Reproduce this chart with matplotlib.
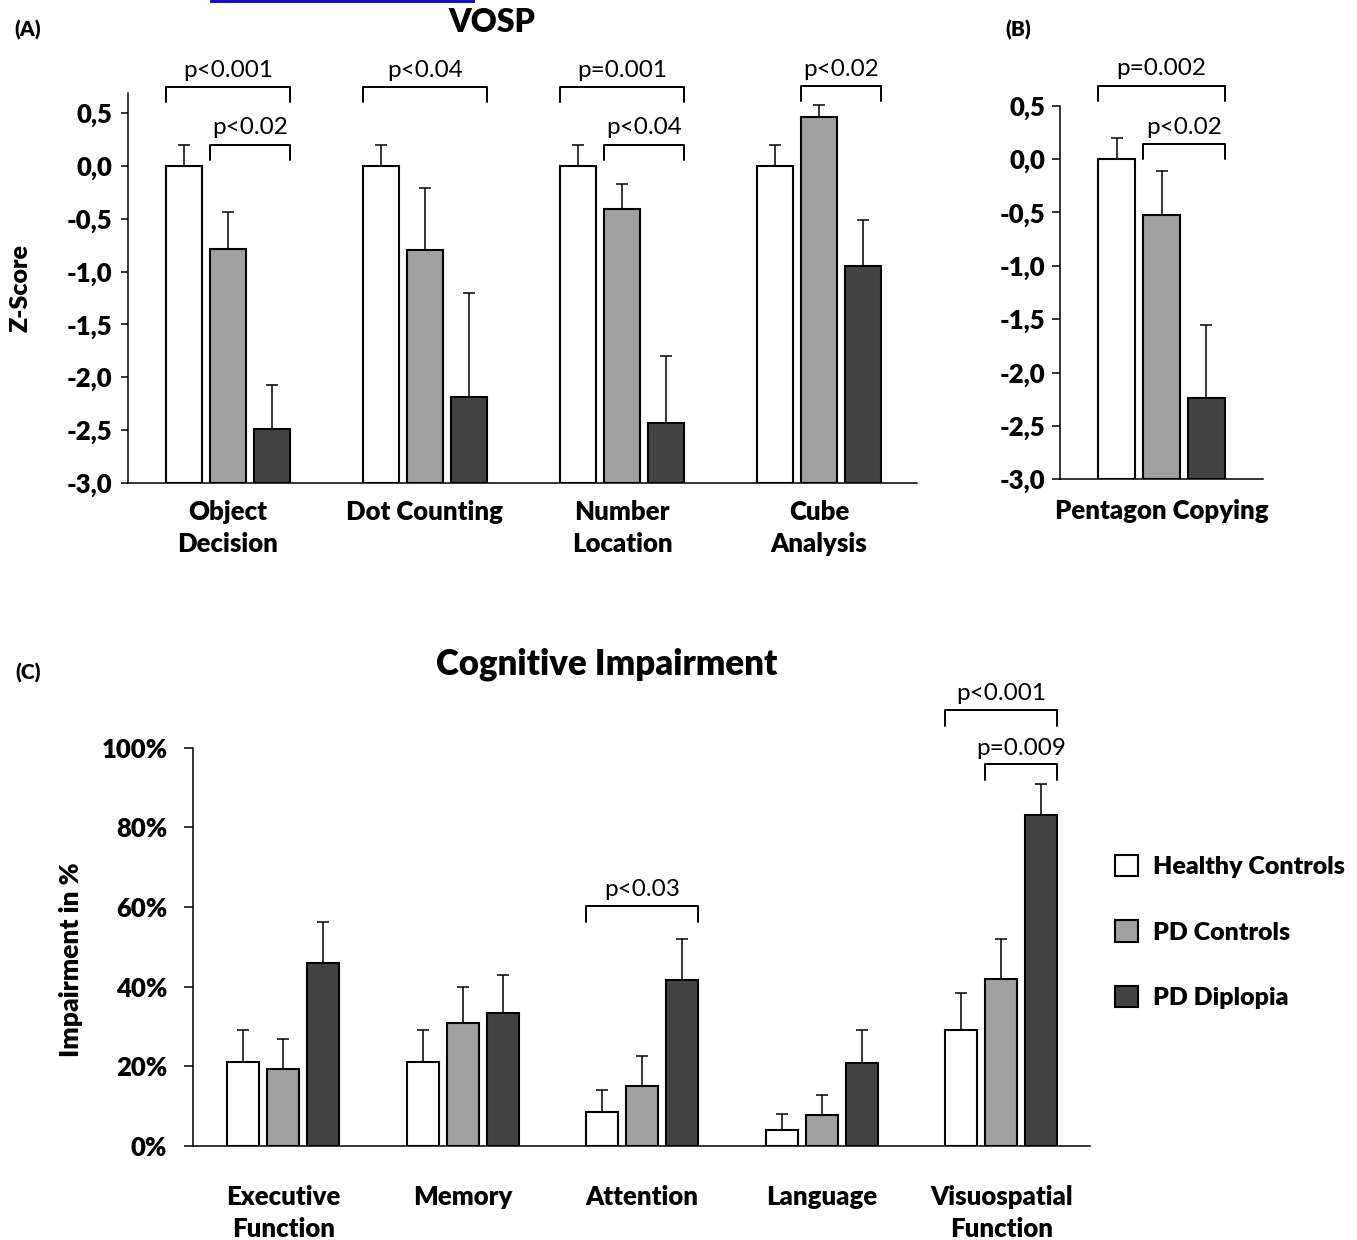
import matplotlib
matplotlib.use('Agg')
import matplotlib.pyplot as plt
from matplotlib.patches import Rectangle

plt.rcParams['font.family'] = ['Lato', 'DejaVu Sans']

# ---------------- data ----------------
group_names = ['Healthy Controls', 'PD Controls', 'PD Diplopia']
group_colors = ['#ffffff', '#a0a0a0', '#434343']

vosp_tests = ['Object\nDecision', 'Dot Counting', 'Number\nLocation', 'Cube\nAnalysis']
vosp_hc = [0.0, 0.0, 0.0, 0.0]
vosp_hc_err = [0.20, 0.20, 0.20, 0.20]
vosp_pdc = [-0.79, -0.80, -0.41, 0.46]
vosp_pdc_err = [0.35, 0.59, 0.24, 0.12]
vosp_pdd = [-2.49, -2.19, -2.43, -0.95]
vosp_pdd_err = [0.42, 0.99, 0.63, 0.44]

pent_tests = ['Pentagon Copying']
pent_hc = [0.0]
pent_hc_err = [0.20]
pent_pdc = [-0.52]
pent_pdc_err = [0.41]
pent_pdd = [-2.24]
pent_pdd_err = [0.69]

z_ticks = [0.5, 0.0, -0.5, -1.0, -1.5, -2.0, -2.5, -3.0]
z_ticklabels = ['0,5', '0,0', '-0,5', '-1,0', '-1,5', '-2,0', '-2,5', '-3,0']

cog_domains = ['Executive\nFunction', 'Memory', 'Attention', 'Language', 'Visuospatial\nFunction']
cog_hc = [21.0, 21.0, 8.5, 4.0, 29.0]
cog_hc_err = [8.0, 8.0, 5.5, 4.0, 9.5]
cog_pdc = [19.3, 31.0, 15.0, 7.8, 42.0]
cog_pdc_err = [7.6, 9.0, 7.5, 5.0, 10.0]
cog_pdd = [46.0, 33.4, 41.7, 20.8, 83.0]
cog_pdd_err = [10.2, 9.5, 10.2, 8.3, 8.0]

pct_ticks = [0, 20, 40, 60, 80, 100]
pct_ticklabels = ['0%', '20%', '40%', '60%', '80%', '100%']

# ---------------- figure ----------------
W, H = 1357, 1240
fig = plt.figure(figsize=(W / 100, H / 100), dpi=100)


def px_axes(x0, y0, x1, y1):
    return fig.add_axes([x0 / W, 1 - y1 / H, (x1 - x0) / W, (y1 - y0) / H])


BAR_W = 0.183
PITCH = 0.223
LAB = 18.5   # category label size
TICK = 18.5  # y tick label size
PFS = 17.5   # p-value text size
BW = 'heavy'


def draw_bars(ax, series, errs, bottom, width=BAR_W, pitch=PITCH):
    n = len(series[0])
    for i, (vals, err, col) in enumerate(zip(series, errs, group_colors)):
        xs = [g + (i - 1) * pitch for g in range(n)]
        heights = [v - bottom for v in vals]
        ax.bar(xs, heights, width, bottom=bottom, color=col, edgecolor='black',
               linewidth=1.5, zorder=2, label=group_names[i])
        ax.errorbar(xs, vals, yerr=[[0] * n, err], fmt='none', ecolor='black',
                    elinewidth=1.1, capsize=4.5, capthick=1.1, zorder=3)


def style_axes(ax):
    for s in ['top', 'right']:
        ax.spines[s].set_visible(False)
    for s in ['left', 'bottom']:
        ax.spines[s].set_linewidth(1.1)
        ax.spines[s].set_color('black')
    ax.tick_params(axis='x', length=0)


def bracket(ax, x0, x1, y, leg, text, ty, fs=PFS):
    ax.plot([x0, x0, x1, x1], [y - leg, y, y, y - leg], color='black', lw=1.4,
            clip_on=False, solid_joinstyle='round', solid_capstyle='round', zorder=4)
    ax.text((x0 + x1) / 2, ty, text, ha='center', va='center', fontsize=fs,
            clip_on=False)


# ---------- panel A ----------
axA = px_axes(128, 93, 917, 483)
draw_bars(axA, [vosp_hc, vosp_pdc, vosp_pdd], [vosp_hc_err, vosp_pdc_err, vosp_pdd_err], -3.0)
axA.set_xlim(-0.507, 3.497)
axA.set_ylim(-3.0, 0.69)
style_axes(axA)
axA.set_yticks(z_ticks, z_ticklabels, fontsize=TICK, fontweight=BW)
axA.tick_params(axis='y', direction='out', length=5, width=1.1, pad=6)
axA.set_xticks(range(len(vosp_tests)), vosp_tests, fontsize=LAB, fontweight=BW,
               linespacing=1.4)
axA.tick_params(axis='x', pad=12)
axA.set_ylabel('Z-Score', fontsize=18, fontweight=BW)
axA.yaxis.set_label_coords(-0.122, 0.5)

lo = -PITCH - BAR_W / 2
mid = -BAR_W / 2
hi = PITCH + BAR_W / 2
bracket(axA, 0 + lo, 0 + hi, 0.747, 0.14, 'p<0.001', 0.905)
bracket(axA, 0 + mid, 0 + hi, 0.199, 0.14, 'p<0.02', 0.36)
bracket(axA, 1 + lo, 1 + hi, 0.747, 0.14, 'p<0.04', 0.905)
bracket(axA, 2 + lo, 2 + hi, 0.747, 0.14, 'p=0.001', 0.905)
bracket(axA, 2 + mid, 2 + hi, 0.199, 0.14, 'p<0.04', 0.36)
bracket(axA, 3 + mid, 3 + hi, 0.757, 0.14, 'p<0.02', 0.915)

# ---------- panel B ----------
axB = px_axes(1060, 105.7, 1263, 479.3)
draw_bars(axB, [pent_hc, pent_pdc, pent_pdd], [pent_hc_err, pent_pdc_err, pent_pdd_err], -3.0,
          width=0.187, pitch=0.228)
axB.set_xlim(-0.515, 0.515)
axB.set_ylim(-3.0, 0.5)
style_axes(axB)
axB.set_yticks(z_ticks, z_ticklabels, fontsize=TICK, fontweight=BW)
axB.tick_params(axis='y', direction='out', length=5.5, width=1.1, pad=5)
axB.set_xticks([0], pent_tests, fontsize=LAB, fontweight=BW)
axB.tick_params(axis='x', pad=14)
bracket(axB, -0.228 - 0.0935, 0.228 + 0.0935, 0.68, 0.14, 'p=0.002', 0.846)
bracket(axB, -0.0935, 0.228 + 0.0935, 0.14, 0.14, 'p<0.02', 0.293)

# ---------- panel C ----------
axC = px_axes(193, 747.7, 1090, 1146)
draw_bars(axC, [cog_hc, cog_pdc, cog_pdd], [cog_hc_err, cog_pdc_err, cog_pdd_err], 0.0,
          width=0.178, pitch=0.223)
axC.set_xlim(-0.504, 4.495)
axC.set_ylim(0, 100)
style_axes(axC)
axC.set_yticks(pct_ticks, pct_ticklabels, fontsize=TICK, fontweight=BW)
axC.tick_params(axis='y', direction='out', length=6.5, width=1.1, pad=12)
axC.set_xticks(range(len(cog_domains)), cog_domains, fontsize=LAB, fontweight=BW,
               linespacing=1.4)
axC.tick_params(axis='x', pad=28)
axC.set_ylabel('Impairment in %', fontsize=19, fontweight=BW)
axC.yaxis.set_label_coords(-0.123, 0.467)

clo = -0.223 - 0.089
cmid = -0.089
chi = 0.223 + 0.089
bracket(axC, 2 + clo, 2 + chi, 60.2, 4.0, 'p<0.03', 64.5)
bracket(axC, 4 + clo, 4 + chi, 109.4, 4.0, 'p<0.001', 113.7)
bracket(axC, 4 + cmid, 4 + chi, 95.9, 4.0, 'p=0.009', 99.9)

handles, labels = axC.get_legend_handles_labels()
fig.legend(handles, labels, loc='center left', bbox_to_anchor=(1115 / W, 1 - 932 / H),
           frameon=False, prop={'weight': BW, 'size': 18},
           handlelength=0.92, handleheight=0.92, handletextpad=0.6,
           labelspacing=1.7, borderpad=0, borderaxespad=0)

# ---------- titles / panel labels ----------
fig.text(492 / W, 1 - 22 / H, 'VOSP', ha='center', va='center', fontsize=23, fontweight=BW)
fig.text(607 / W, 1 - 664 / H, 'Cognitive Impairment', ha='center', va='center', fontsize=25,
         fontweight=BW)
fig.text(28 / W, 1 - 30 / H, '(A)', ha='center', va='center', fontsize=15, fontweight=BW)
fig.text(1018 / W, 1 - 30 / H, '(B)', ha='center', va='center', fontsize=15, fontweight=BW)
fig.text(28 / W, 1 - 673 / H, '(C)', ha='center', va='center', fontsize=15, fontweight=BW)

# blue strip at the top edge of the source image
fig.patches.append(Rectangle((210 / W, 1 - 3 / H), 265 / W, 3 / H, transform=fig.transFigure,
                             facecolor='#1414c8', edgecolor='none'))

fig.savefig('out.png', dpi=100)
